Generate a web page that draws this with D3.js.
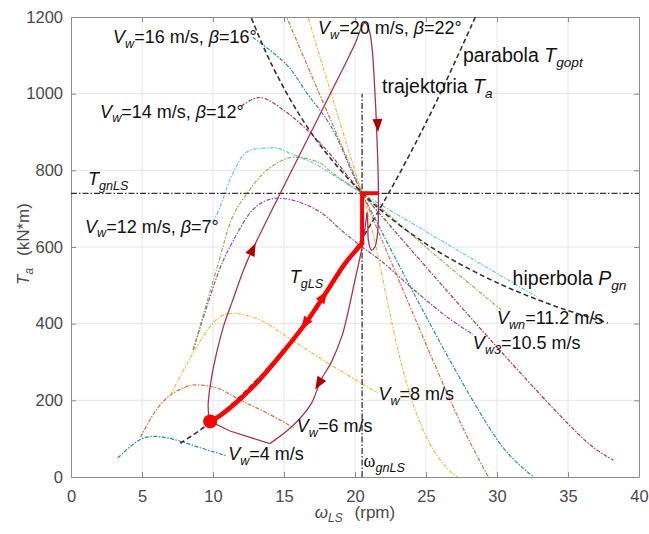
<!DOCTYPE html>
<html>
<head>
<meta charset="utf-8">
<script src="https://cdn.jsdelivr.net/npm/d3@7"></script>
<style>
body { margin: 0; background: #fff; }
text { font-family: "Liberation Sans", Arial, sans-serif; }
</style>
</head>
<body>
<div id="chart"></div>
<script>
var xTicks = [0, 5, 10, 15, 20, 25, 30, 35, 40];
var yTicks = [0, 200, 400, 600, 800, 1000, 1200];

// torque curves T_a(omega_LS), [rpm, kN*m]
var vw4   = [[3.3,50],[4.2,80],[5.0,100],[5.8,106],[6.8,102],[7.8,92],[8.8,80],[10,66],[11,55]];
var vw6   = [[4.9,104],[6.0,175],[7.0,214],[8.0,234],[8.6,240],[10.3,232],[11.9,201],[13.8,167],[15.7,128]];
var vw8   = [[7.0,214],[8.2,297],[9.6,383],[10.5,418],[11.4,427],[13.3,410],[15.2,366],[17.2,318],[19.3,270],[21.6,219]];
var vw105 = [[8.6,331],[10.5,545],[11.4,615],[12.8,697],[13.8,722],[14.7,727],[16,718],[17.6,690],[19,645],[20.5,600],[21.8,565],[24.1,490],[26.5,417],[28.3,372]];
var vw112 = [[8.6,331],[10.3,548],[11.4,680],[12.4,740],[13.8,801],[15.4,833],[16.4,832],[17.6,818],[18.3,796],[19.5,765],[20.5,740],[21.8,702],[26,568],[30.3,436]];
var vw12  = [[10.0,665],[10.5,705],[11.4,793],[12.4,848],[13.8,858],[14.5,858],[15.4,845],[17.1,818],[18.3,792],[20.5,740],[32.8,470]];
var vw14  = [[12.0,968],[13.3,990],[15.3,948],[17.1,888],[18.3,840],[20.5,740],[36.4,89],[38.2,44]];
var vw16  = [[12.8,1147],[15.2,1075],[16.6,1002],[18.3,915],[20.5,740],[30.4,78],[32.6,0]];
var vw18  = [[14.6,1250],[20.5,740],[27.6,128],[29.4,0]];
var vw20  = [[16.2,1260],[20.5,740],[27.2,0],[40,0]];

var hyperbolaPgn = [[12.5,1216],[14,1086],[16,950],[18,844],[20.5,741],[23,661],[26,585],[30,507],[34,447],[37.8,402]];
var parabolaTgopt = [[7.7,88],[9,120],[10,148],[12,213],[14,290],[16,379],[18,480],[20,592],[22,716],[24,852],[26,1000],[28.5,1202]];

var TgnLS = 740, wgnLS = 20.5, wgnTop = 1000;

var tgLSCurve = [[9.8,145],[10.5,160],[12.8,235],[15.2,338],[16.6,405],[18.05,486],[19.2,552],[20.5,610]];
var tgLSStep  = [[20.5,610],[20.5,740],[21.65,740]];
var startPoint = [9.8,145];

var trajUp   = [[9.7,160],[9.66,190],[9.9,260],[10.3,331],[10.8,400],[11.4,462],[12.0,525],[12.5,571],[18.05,984],[20.0,1130],[20.45,1172],[20.7,1185],[21.0,1165],[21.2,1120],[21.35,1040],[21.5,930],[21.6,830],[21.65,741],[21.6,640],[21.4,600],[21.15,592],[20.95,615],[20.9,660],[20.85,690]];
var trajDown = [[20.85,690],[20.5,600],[20.0,514],[19.5,428],[19.1,370],[18.3,297],[17.6,253],[16.9,190],[15.6,133],[14.0,87]];
var trajBack = [[14.0,87],[11.2,120],[9.8,145]];

var width = 649, height = 534;
var x = d3.scaleLinear().domain([0, 40]).range([71, 639]);
var y = d3.scaleLinear().domain([0, 1200]).range([477, 17]);

var svg = d3.select("#chart").append("svg")
    .attr("width", width)
    .attr("height", height);

svg.append("defs").append("clipPath").attr("id", "plot")
    .append("rect")
    .attr("x", x(0)).attr("y", y(1200))
    .attr("width", x(40) - x(0)).attr("height", y(0) - y(1200));

// grid
svg.append("g").selectAll("line").data(xTicks.slice(1, -1)).enter().append("line")
    .attr("x1", function(d) { return x(d); }).attr("x2", function(d) { return x(d); })
    .attr("y1", y(0)).attr("y2", y(1200))
    .attr("stroke", "#e6e6e6");
svg.append("g").selectAll("line").data(yTicks.slice(1, -1)).enter().append("line")
    .attr("y1", function(d) { return y(d); }).attr("y2", function(d) { return y(d); })
    .attr("x1", x(0)).attr("x2", x(40))
    .attr("stroke", "#e6e6e6");

// axes
function styleAxis(g) {
    g.selectAll("path, line").attr("stroke", "#8c8c8c");
    g.selectAll("text").attr("fill", "#4a4a4a").style("font-size", "16.5px")
        .style("font-family", "'Liberation Sans', Arial, sans-serif");
}
svg.append("g").attr("transform", "translate(0," + y(0) + ")")
    .call(d3.axisBottom(x).tickValues(xTicks).tickSizeInner(-5).tickSizeOuter(0).tickPadding(13))
    .call(styleAxis);
svg.append("g").attr("transform", "translate(0," + y(1200) + ")")
    .call(d3.axisTop(x).tickValues(xTicks).tickSizeInner(-5).tickSizeOuter(0).tickFormat(""))
    .call(styleAxis);
svg.append("g").attr("transform", "translate(" + x(0) + ",0)")
    .call(d3.axisLeft(y).tickValues(yTicks).tickFormat(d3.format("d")).tickSizeInner(-5).tickSizeOuter(0).tickPadding(8))
    .call(styleAxis);
svg.append("g").attr("transform", "translate(" + x(40) + ",0)")
    .call(d3.axisRight(y).tickValues(yTicks).tickSizeInner(-5).tickSizeOuter(0).tickFormat(""))
    .call(styleAxis);

var plot = svg.append("g").attr("clip-path", "url(#plot)");

var line = d3.line().x(function(d) { return x(d[0]); }).y(function(d) { return y(d[1]); });
var smooth = d3.line().x(function(d) { return x(d[0]); }).y(function(d) { return y(d[1]); })
    .curve(d3.curveCatmullRom.alpha(0.5));

var curves = [
    { data: vw4,   color: "#0072BD" },
    { data: vw6,   color: "#D95319" },
    { data: vw8,   color: "#EDB120" },
    { data: vw105, color: "#7E2F8E" },
    { data: vw112, color: "#77AC30" },
    { data: vw12,  color: "#4DBEEE" },
    { data: vw14,  color: "#A2142F" },
    { data: vw16,  color: "#0072BD" },
    { data: vw18,  color: "#D95319" },
    { data: vw20,  color: "#EDB120" }
];
plot.selectAll("path.tq").data(curves).enter().append("path")
    .attr("class", "tq")
    .attr("d", function(d) { return smooth(d.data); })
    .attr("fill", "none")
    .attr("stroke", function(d) { return d.color; })
    .attr("stroke-width", 1.2)
    .attr("stroke-opacity", 0.85)
    .attr("stroke-dasharray", "4,1.5,1.5,1.5");

// reference lines
plot.append("path").attr("d", line([[0, TgnLS], [40, TgnLS]]))
    .attr("stroke", "#333").attr("stroke-width", 1.3).attr("stroke-dasharray", "6,2,1.5,2");
plot.append("path").attr("d", line([[wgnLS, 0], [wgnLS, wgnTop]]))
    .attr("stroke", "#333").attr("stroke-width", 1.3).attr("stroke-dasharray", "6,2,1.5,2");

plot.append("path").attr("d", smooth(hyperbolaPgn)).attr("fill", "none")
    .attr("stroke", "#333").attr("stroke-width", 1.6).attr("stroke-dasharray", "5,3");
plot.append("path").attr("d", smooth(parabolaTgopt)).attr("fill", "none")
    .attr("stroke", "#333").attr("stroke-width", 1.6).attr("stroke-dasharray", "5,3");

// trajectory T_a
var trajColor = "#a3335e";
[trajUp, trajDown].forEach(function(seg) {
    plot.append("path").attr("d", smooth(seg)).attr("fill", "none")
        .attr("stroke", trajColor).attr("stroke-width", 1.3);
});
plot.append("path").attr("d", line(trajBack)).attr("fill", "none")
    .attr("stroke", trajColor).attr("stroke-width", 1.3);

// T_gLS
plot.append("path").attr("d", smooth(tgLSCurve)).attr("fill", "none")
    .attr("stroke", "#ff0000").attr("stroke-width", 4.5).attr("stroke-linecap", "round");
plot.append("path").attr("d", line(tgLSStep)).attr("fill", "none")
    .attr("stroke", "#ff0000").attr("stroke-width", 4).attr("stroke-linejoin", "miter");
plot.append("circle").attr("cx", x(startPoint[0])).attr("cy", y(startPoint[1])).attr("r", 7)
    .attr("fill", "#ff0000");

// arrowheads
var arrows = [
    { at: [13.0, 610], from: [12.5, 571], color: "#b00000" },
    { at: [21.62, 900], from: [21.5, 1000], color: "#b00000" },
    { at: [17.2, 228], from: [18.3, 297], color: "#b00000" },
    { at: [18.05, 486], from: [16.6, 405], color: "#ff0000" },
    { at: [16.2, 385], from: [18.05, 486], color: "#ff0000" }
];
plot.selectAll("path.arrow").data(arrows).enter().append("path")
    .attr("class", "arrow")
    .attr("d", "M0,0L-13,-5L-13,5Z")
    .attr("fill", function(d) { return d.color; })
    .attr("transform", function(d) {
        var a = Math.atan2(y(d.at[1]) - y(d.from[1]), x(d.at[0]) - x(d.from[0])) * 180 / Math.PI;
        return "translate(" + x(d.at[0]) + "," + y(d.at[1]) + ")rotate(" + a + ")";
    });

// labels
function label(parts, pos, size, opts) {
    opts = opts || {};
    var t = svg.append("text")
        .attr("x", x(pos[0])).attr("y", y(pos[1]))
        .attr("fill", opts.color || "#111")
        .style("font-size", size + "px");
    if (opts.rotate) {
        t.attr("x", 0).attr("y", 0).attr("text-anchor", "middle")
            .attr("transform", "translate(" + opts.rotate[0] + "," + opts.rotate[1] + ")rotate(-90)");
    }
    if (opts.anchor) t.attr("text-anchor", opts.anchor);
    var shift = 0;
    parts.forEach(function(p) {
        var s = t.append("tspan").text(p.t);
        var want = p.sub ? size * 0.26 : 0;
        if (want !== shift) { s.attr("dy", want - shift); shift = want; }
        if (p.dx) s.attr("dx", p.dx);
        if (p.sub) s.style("font-size", (size * 0.7) + "px");
        if (p.i) s.style("font-style", "italic");
        if (p.f) s.style("font-family", p.f);
    });
    return t;
}

function vw(sub, rest) {
    return [{ t: "V", i: true }, { t: sub, i: true, sub: true }].concat(rest);
}
var fs = 18, fb = 19.5;
label(vw("w", [{ t: "=16 m/s, " }, { t: "β", i: true }, { t: "=16°" }]), [2.96, 1132], fs);
label(vw("w", [{ t: "=14 m/s, " }, { t: "β", i: true }, { t: "=12°" }]), [2.05, 937], fs);
label(vw("w", [{ t: "=12 m/s, " }, { t: "β", i: true }, { t: "=7°" }]), [0.99, 637], fs);
label(vw("w", [{ t: "=20 m/s, " }, { t: "β", i: true }, { t: "=22°" }]), [17.4, 1156], fs);
label([{ t: "T", i: true }, { t: "gnLS", i: true, sub: true }], [1.2, 762], fs);
label([{ t: "parabola " }, { t: "T", i: true }, { t: "gopt", i: true, sub: true }], [27.6, 1083], fb);
label([{ t: "trajektoria " }, { t: "T", i: true }, { t: "a", i: true, sub: true }], [21.9, 1002], fb);
label([{ t: "hiperbola " }, { t: "P", i: true }, { t: "gn", i: true, sub: true }], [31.1, 501], fb);
label(vw("wn", [{ t: "=11.2 m/s" }]), [30.0, 399], fs);
label(vw("w3", [{ t: "=10.5 m/s" }]), [28.3, 333], fs);
label(vw("w", [{ t: "=8 m/s" }]), [21.65, 201], fs);
label(vw("w", [{ t: "=6 m/s" }]), [15.9, 117], fs);
label(vw("w", [{ t: "=4 m/s" }]), [11.07, 44], fs);
label([{ t: "T", i: true }, { t: "gLS", i: true, sub: true }], [15.4, 506], fs);
label([{ t: "ω", f: "'Liberation Serif', serif" }, { t: "gnLS", i: true, sub: true }], [20.6, 26], 18);

// axis titles
label([{ t: "ω", i: true }, { t: "LS", i: true, sub: true }, { t: "(rpm)", dx: 12 }], [20, 0], 17,
    { color: "#4a4a4a", anchor: "middle" }).attr("x", 355).attr("y", 518);
label([{ t: "T", i: true }, { t: "a", i: true, sub: true }, { t: "(kN*m)", dx: 12 }], [0, 0], 17,
    { color: "#4a4a4a", rotate: [29, 244] });
</script>
</body>
</html>
